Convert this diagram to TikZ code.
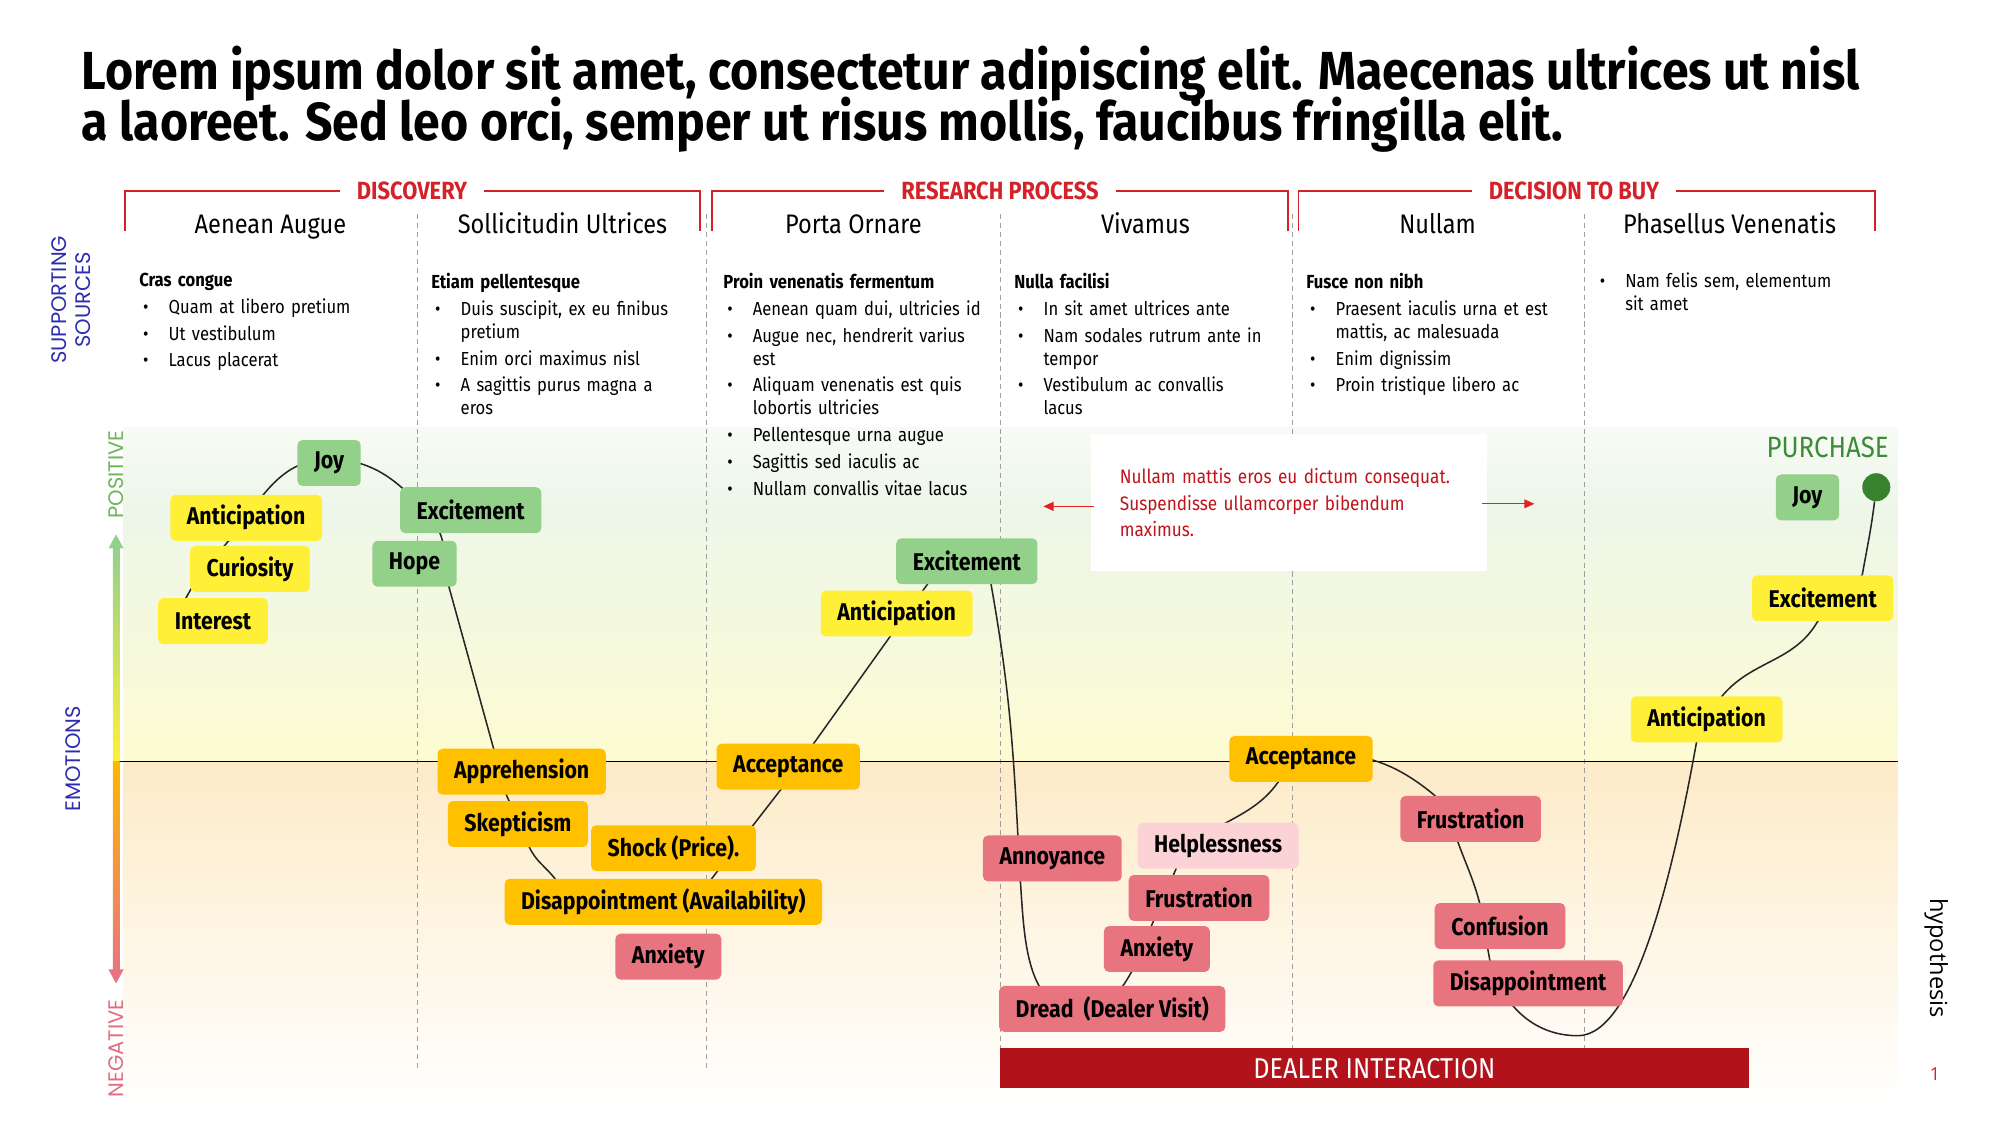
\documentclass[tikz,border=0pt]{standalone}
\usepackage{fontspec}
\setmainfont{Fira Sans}[FakeStretch=0.88]
\newfontfamily\titlefont{Fira Sans}[FakeStretch=0.9]
\newfontfamily\axisfont{Poppins}
\newfontfamily\notefont{Open Sans}
\usetikzlibrary{arrows.meta}
\pgfdeclarelayer{bg}
\pgfdeclarelayer{curve}
\pgfsetlayers{bg,curve,main}

\definecolor{cjGreen}{HTML}{93D18A}
\definecolor{cjYellow}{HTML}{FFF037}
\definecolor{cjOrange}{HTML}{FFC000}
\definecolor{cjRed}{HTML}{E87480}
\definecolor{cjPink}{HTML}{FBD3D6}
\definecolor{cjStage}{HTML}{D2232A}
\definecolor{cjNoteRed}{HTML}{C0141C}
\definecolor{cjArrowRed}{HTML}{E02424}
\definecolor{cjDealer}{HTML}{B2121A}
\definecolor{cjAxisBlue}{HTML}{2D2DAF}
\definecolor{cjPos}{HTML}{6DB45A}
\definecolor{cjNeg}{HTML}{E06E7E}
\definecolor{cjPurchase}{HTML}{3D8B37}
\definecolor{cjDot}{HTML}{38822F}
\definecolor{cjBgTop}{HTML}{F7FBF5}
\definecolor{cjBgGreen}{HTML}{EDF6E9}
\definecolor{cjBgYellow}{HTML}{FDFBD1}
\definecolor{cjBgOrange}{HTML}{FDEBC8}
\definecolor{cjBgPink}{HTML}{FCEAE6}

\newcommand{\srcitem}[1]{\par\hangindent=23pt\hangafter=1\noindent\makebox[23pt][l]{\hspace{3pt}\textbullet}#1\par}

\begin{document}
\begin{tikzpicture}[x=1pt, y=-1pt,
  cjtitle/.style = {inner sep=0pt, font=\titlefont\fontsize{42}{44}\selectfont\bfseries},
  cjbox/.style = {rounded corners=4pt, minimum height=36pt, inner xsep=13pt, inner ysep=0pt, font=\fontsize{19}{21}\selectfont\bfseries},
  cjgreen/.style = {cjbox, fill=cjGreen},
  cjyellow/.style = {cjbox, fill=cjYellow},
  cjorange/.style = {cjbox, fill=cjOrange},
  cjred/.style = {cjbox, fill=cjRed},
  cjpink/.style = {cjbox, fill=cjPink},
  cjstage/.style = {text=cjStage, font=\fontsize{19.5}{22}\selectfont\bfseries, inner xsep=13pt},
  cjbracket/.style = {cjStage, line width=1.4pt},
  cjhead/.style = {anchor=base, font=\fontsize{21}{24}\selectfont},
  cjsrc/.style = {anchor=north west, text width=230pt, align=left, inner sep=0pt,
    font=\fontsize{14.8}{18}\selectfont\setlength{\parskip}{3pt}},
  cjcol/.style = {gray!75, line width=0.6pt, dash pattern=on 4pt off 3pt},
  cjcurve/.style = {line width=1.2pt, black!85},
  cjaxis/.style = {rotate=90, align=center, font=\axisfont\fontsize{16.5}{19}\selectfont},
  cjnote/.style = {fill=white, minimum width=311pt, minimum height=108pt, text width=265pt,
    inner xsep=23pt, align=left, text=cjNoteRed, font=\fontsize{15.3}{21}\selectfont},
  cjarrow/.style = {-{Triangle[length=8pt,width=7pt]}, cjArrowRed, line width=1pt},
  cjdealer/.style = {fill=cjDealer, text=white, minimum width=587pt, minimum height=31pt,
    inner sep=0pt, font=\fontsize{22.5}{24}\selectfont}
]
\useasboundingbox (0,0) rectangle (1568,882);

% title
\node[cjtitle, anchor=base west] (title1) at (64,70) {Lorem ipsum dolor sit amet, consectetur adipiscing elit. Maecenas ultrices ut nisl};
\node[cjtitle, anchor=base west] (title2) at (64,110) {a laoreet. Sed leo orci, semper ut risus mollis, faucibus fringilla elit.};

% stages and their brackets
\node[cjstage] (stage1) at (323,150) {DISCOVERY};
\node[cjstage] (stage2) at (784,150) {RESEARCH PROCESS};
\node[cjstage] (stage3) at (1234,150) {DECISION TO BUY};
\coordinate (br1l) at (98,181);   \coordinate (br1r) at (549,181);
\coordinate (br2l) at (558,181);  \coordinate (br2r) at (1010,181);
\coordinate (br3l) at (1018,181); \coordinate (br3r) at (1470,181);
\draw[cjbracket] (br1l) |- (stage1.west);
\draw[cjbracket] (stage1.east) -| (br1r);
\draw[cjbracket] (br2l) |- (stage2.west);
\draw[cjbracket] (stage2.east) -| (br2r);
\draw[cjbracket] (br3l) |- (stage3.west);
\draw[cjbracket] (stage3.east) -| (br3r);

% column heads
\node[cjhead] (head1) at (212,183) {Aenean Augue};
\node[cjhead] (head2) at (441,183) {Sollicitudin Ultrices};
\node[cjhead] (head3) at (669,183) {Porta Ornare};
\node[cjhead] (head4) at (898,183) {Vivamus};
\node[cjhead] (head5) at (1127,183) {Nullam};
\node[cjhead] (head6) at (1356,183) {Phasellus Venenatis};

% supporting sources
\node[cjsrc] (src1) at (109,214) {{\bfseries Cras congue}
  \srcitem{Quam at libero pretium}
  \srcitem{Ut vestibulum}
  \srcitem{Lacus placerat}};
\node[cjsrc] (src2) at (338,214) {{\bfseries Etiam pellentesque}
  \srcitem{Duis suscipit, ex eu finibus\newline pretium}
  \srcitem{Enim orci maximus nisl}
  \srcitem{A sagittis purus magna a\newline eros}};
\node[cjsrc] (src3) at (567,214) {{\bfseries Proin venenatis fermentum}
  \srcitem{Aenean quam dui, ultricies id}
  \srcitem{Augue nec, hendrerit varius\newline est}
  \srcitem{Aliquam venenatis est quis\newline lobortis ultricies}
  \srcitem{Pellentesque urna augue}
  \srcitem{Sagittis sed iaculis ac}
  \srcitem{Nullam convallis vitae lacus}};
\node[cjsrc] (src4) at (795,214) {{\bfseries Nulla facilisi}
  \srcitem{In sit amet ultrices ante}
  \srcitem{Nam sodales rutrum ante in\newline tempor}
  \srcitem{Vestibulum ac convallis\newline lacus}};
\node[cjsrc] (src5) at (1024,214) {{\bfseries Fusce non nibh}
  \srcitem{Praesent iaculis urna et est\newline mattis, ac malesuada}
  \srcitem{Enim dignissim}
  \srcitem{Proin tristique libero ac}};
\node[cjsrc] (src6) at (1251,204) {\srcitem{Nam felis sem, elementum\newline sit amet}};

% background of the emotion band
\begin{pgfonlayer}{bg}
  \shade[top color=cjBgTop, bottom color=cjBgGreen] (97,335) rectangle (1488,400);
  \shade[top color=cjBgGreen, bottom color=cjBgYellow] (97,399) rectangle (1488,597);
  \shade[top color=cjBgOrange, middle color=cjBgPink, bottom color=white] (97,597) rectangle (1488,868);
  \foreach \x in {327,554,784,1013,1242}
    \draw[cjcol] (\x,168) -- (\x,838);
  \draw[line width=1pt] (92,597) -- (1488,597);
\end{pgfonlayer}

% emotion scale
\shade[top color=cjGreen, bottom color=cjYellow] (88.5,428) rectangle (93.5,597);
\fill[cjGreen] (85,430) -- (91,419) -- (97,430) -- cycle;
\shade[top color=cjOrange!85!orange, bottom color=cjRed] (88.5,597) rectangle (93.5,762);
\fill[cjRed] (85,760) -- (91,771) -- (97,760) -- cycle;
\node[cjaxis, text=cjAxisBlue] (supsrc) at (56,235) {SUPPORTING\\SOURCES};
\node[cjaxis, text=cjAxisBlue] (emotions) at (57,595) {EMOTIONS};
\node[cjaxis, text=cjPos] (positive) at (91,372) {POSITIVE};
\node[cjaxis, text=cjNeg] (negative) at (91,822) {NEGATIVE};

% note
\node[cjnote] (note) at (1010.5,394) {Nullam mattis eros eu dictum consequat.\\Suspendisse ullamcorper bibendum\\maximus.};
\coordinate (noteL) at (818,397);
\coordinate (noteR) at (1203,395);
\draw[cjarrow] ([xshift=3pt,yshift=-3pt]note.west) -- (noteL);
\draw[cjarrow] ([xshift=-4pt,yshift=-1pt]note.east) -- (noteR);

% emotions
\node[cjyellow] (interest) at (167,487) {Interest};
\node[cjyellow] (curiosity) at (196,446) {Curiosity};
\node[cjyellow] (anticip1) at (193,406) {Anticipation};
\node[cjgreen] (joy1) at (258,363) {Joy};
\node[cjgreen] (excite1) at (369,400) {Excitement};
\node[cjgreen] (hope) at (325,442) {Hope};
\node[cjorange] (apprehension) at (409,605) {Apprehension};
\node[cjorange] (skepticism) at (406,646) {Skepticism};
\node[cjorange] (shock) at (528,665) {Shock (Price).};
\node[cjorange] (disavail) at (520,707) {Disappointment (Availability)};
\node[cjred] (anxiety1) at (524,750) {Anxiety};
\node[cjorange] (accept1) at (618,601) {Acceptance};
\node[cjyellow] (anticip2) at (703,481) {Anticipation};
\node[cjgreen] (excite2) at (758,440) {Excitement};
\node[cjred] (annoyance) at (825,673) {Annoyance};
\node[cjpink] (helpless) at (955,663) {Helplessness};
\node[cjred] (frustr1) at (940,704) {Frustration};
\node[cjred] (anxiety2) at (907,744) {Anxiety};
\node[cjred] (dread) at (872,791) {Dread\ \ (Dealer Visit)};
\node[cjorange] (accept2) at (1020,595) {Acceptance};
\node[cjred] (frustr2) at (1153,642) {Frustration};
\node[cjred] (confusion) at (1176,726) {Confusion};
\node[cjred] (disappoint) at (1198,771) {Disappointment};
\node[cjyellow] (anticip3) at (1338,564) {Anticipation};
\node[cjyellow] (excite3) at (1429,469) {Excitement};
\node[cjgreen] (joy2) at (1417,390) {Joy};
\node[circle, fill=cjDot, minimum size=22pt, inner sep=0pt] (dot) at (1471,382) {};
\node[text=cjPurchase, font=\fontsize{23}{25}\selectfont, anchor=east, inner xsep=0pt] (purchase) at (1481,351) {PURCHASE};

% journey line
\begin{pgfonlayer}{curve}
\draw[cjcurve] ([xshift=-30pt,yshift=-5pt]interest.center)
  to[out=75,in=-125] (anticip1.center)
  to[out=55,in=180] ([yshift=3pt]joy1.center)
  to[out=0,in=130] ([xshift=-28pt,yshift=-10pt]excite1.center)
  to[out=-60,in=100] ([xshift=27pt]hope.south)
  -- ([xshift=-12pt]apprehension.south)
  -- ([xshift=9pt]skepticism.south)
  to[out=-65,in=128] ([xshift=-85pt]disavail.north)
  to[out=-52,in=180] ([xshift=-30pt,yshift=-9pt]disavail.center)
  to[out=0,in=-125] ([xshift=38pt]disavail.north)
  -- ([xshift=-6pt]accept1.south)
  -- ([xshift=-31pt]excite2.south)
  to[out=60,in=180] ([yshift=8pt]excite2.center)
  to[out=0,in=95] ([xshift=19pt]excite2.south)
  to[out=-80,in=93] ([xshift=-27pt]annoyance.north)
  -- ([xshift=-25pt]annoyance.south)
  to[out=-86,in=180] ([xshift=-24pt,yshift=-2pt]dread.center)
  to[out=0,in=-120] ([xshift=-20pt]anxiety2.south)
  -- ([xshift=-33pt]helpless.south)
  to[out=65,in=-125] ([xshift=-18pt]accept2.south)
  to[out=55,in=180] ([xshift=10pt,yshift=5pt]accept2.center)
  to[out=0,in=140] ([xshift=-28pt]frustr2.north)
  -- ([xshift=-10pt]frustr2.south)
  to[out=-70,in=105] ([xshift=-16pt]confusion.north)
  -- ([xshift=-30pt]disappoint.north)
  to[out=-75,in=180] ([xshift=39pt,yshift=-41pt]disappoint.center)
  .. controls +(45,0) and +(-18,100) .. ([xshift=-8pt]anticip3.south)
  -- ([xshift=12pt]anticip3.north)
  to[out=50,in=-120] ([xshift=-4pt]excite3.south)
  -- ([xshift=31pt]excite3.north)
  to[out=80,in=-97] (dot);
\end{pgfonlayer}

% dealer interaction bar
\node[cjdealer] (dealer) at (1077.5,837.5) {DEALER INTERACTION};

% margin notes
\node[rotate=-90, font=\notefont\fontsize{18.5}{20}\selectfont] (hyp) at (1518,751) {hypothesis};
\node[text=cjStage, font=\notefont\fontsize{14}{16}\selectfont] (pagenum) at (1517,842) {1};
\end{tikzpicture}
\end{document}
